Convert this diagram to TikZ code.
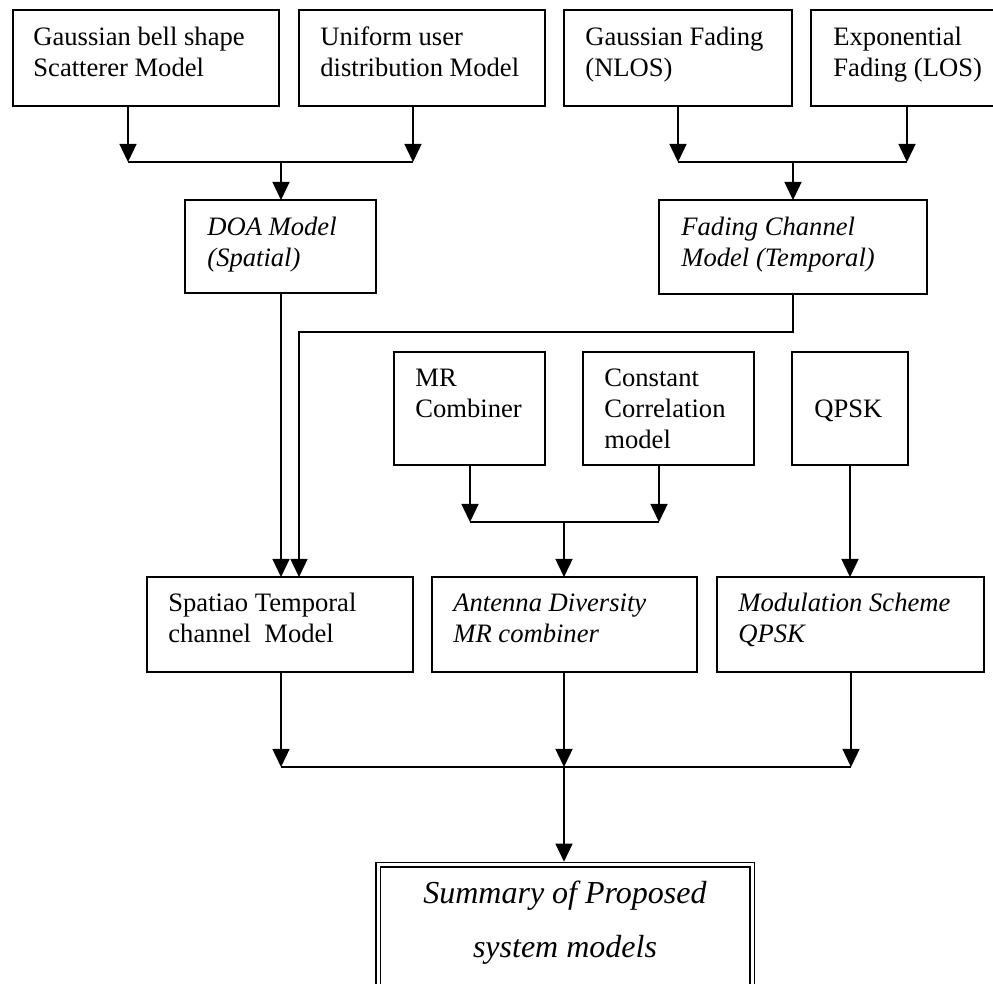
\documentclass[tikz,border=0pt]{standalone}
\usepackage{fontspec}
\setmainfont{Liberation Serif}
\usetikzlibrary{arrows.meta}
\tikzset{
  box/.style={draw, line width=0.9pt, rectangle, inner sep=0pt, outer sep=0pt},
  lbl/.style={font=\fontsize{13.3}{15.6}\selectfont, align=left, inner sep=0pt, anchor=base west},
  ilbl/.style={lbl, font=\itshape\fontsize{13.3}{15.6}\selectfont},
  arr/.style={line width=0.7pt, -{Triangle[length=9pt,width=8.5pt]}},
  ln/.style={line width=0.7pt}
}
\newcommand\mkbox[6][]{\node[box,#1, minimum width={(#5-#3)*0.5pt}, minimum height={(#6-#4)*0.5pt}] (#2) at ({(#3+#5)/2},{(#4+#6)/2}) {};}
\begin{document}
\begin{tikzpicture}[x=0.5pt,y=-0.5pt]
\clip (0,0) rectangle (993,984);
\fill[white] (0,0) rectangle (993,984);
% boxes
\mkbox{gb}{13}{10}{279}{106}
\mkbox{uu}{299}{10}{545}{106}
\mkbox{gf}{564}{10}{792}{106}
\mkbox{ef}{811}{10}{1002}{106}
\mkbox{doa}{185}{200}{376}{293}
\mkbox{fcm}{659}{200}{927}{294}
\mkbox{mr}{394}{352}{545}{465}
\mkbox{cc}{583}{352}{754}{465}
\mkbox{qpsk}{792}{352}{908}{465}
\mkbox{stc}{147}{577}{413}{672}
\mkbox{ad}{432}{577}{697}{672}
\mkbox{ms}{717}{577}{984}{672}
\mkbox[double, double distance=1.5pt, outer sep=1.65pt]{sum}{378}{865}{752}{1012}
% labels (anchored at the baseline of their last line)
\node[lbl] (gbt) at (33,77) {Gaussian bell shape\\Scatterer Model};
\node[lbl] (uut) at (320,77) {Uniform user\\distribution Model};
\node[lbl] (gft) at (585,77) {Gaussian Fading\\(NLOS)};
\node[lbl] (eft) at (833,77) {Exponential\\Fading (LOS)};
\node[ilbl] (doat) at (207,267) {DOA Model\\(Spatial)};
\node[ilbl] (fcmt) at (681,267) {Fading Channel\\Model (Temporal)};
\node[lbl] (mrt) at (415,418) {MR\\Combiner};
\node[lbl] (cct) at (604,449) {Constant\\Correlation\\model};
\node[lbl] (qpskt) at (814,418) {QPSK};
\node[lbl] (stct) at (168,643) {Spatiao Temporal\\channel\ \ Model};
\node[ilbl] (adt) at (453,643) {Antenna Diversity\\MR combiner};
\node[ilbl] (mst) at (738,643) {Modulation Scheme\\QPSK};
\node[font=\itshape\fontsize{16}{27.5}\selectfont, align=center, inner sep=0pt, anchor=base] (sumt) at (565,958) {Summary of Proposed\\system models};
% junctions
\coordinate (j1l) at (128,162);
\coordinate (j1r) at (413,162);
\coordinate (j1m) at (281,162);
\coordinate (j2l) at (678,162);
\coordinate (j2r) at (907,162);
\coordinate (j2m) at (793,162);
\coordinate (k1) at (793,332);
\coordinate (k2) at (299,332);
\coordinate (j3l) at (470,522);
\coordinate (j3r) at (659,522);
\coordinate (j3m) at (564,522);
\coordinate (j4l) at (281,767);
\coordinate (j4m) at (564,767);
\coordinate (j4r) at (851,767);
% connectors
\draw[arr] (j1l |- gb.south) -- (j1l);
\draw[arr] (j1r |- uu.south) -- (j1r);
\draw[ln] (j1l) -- (j1r);
\draw[arr] (j1m) -- (j1m |- doa.north);
\draw[arr] (j2l |- gf.south) -- (j2l);
\draw[arr] (j2r |- ef.south) -- (j2r);
\draw[ln] (j2l) -- (j2r);
\draw[arr] (j2m) -- (j2m |- fcm.north);
\draw[arr] (j1m |- doa.south) -- (j1m |- stc.north);
\draw[arr] (fcm.south) -- (k1) -- (k2) -- (k2 |- stc.north);
\draw[arr] (j3l |- mr.south) -- (j3l);
\draw[arr] (j3r |- cc.south) -- (j3r);
\draw[ln] (j3l) -- (j3r);
\draw[arr] (j3m) -- (j3m |- ad.north);
\draw[arr] (qpsk.south) -- (qpsk.south |- ms.north);
\draw[arr] (j4l |- stc.south) -- (j4l);
\draw[arr] (j4m |- ad.south) -- (j4m);
\draw[arr] (j4r |- ms.south) -- (j4r);
\draw[ln] (j4l) -- (j4r);
\draw[arr] (j4m) -- (j4m |- sum.north);
\end{tikzpicture}
\end{document}
